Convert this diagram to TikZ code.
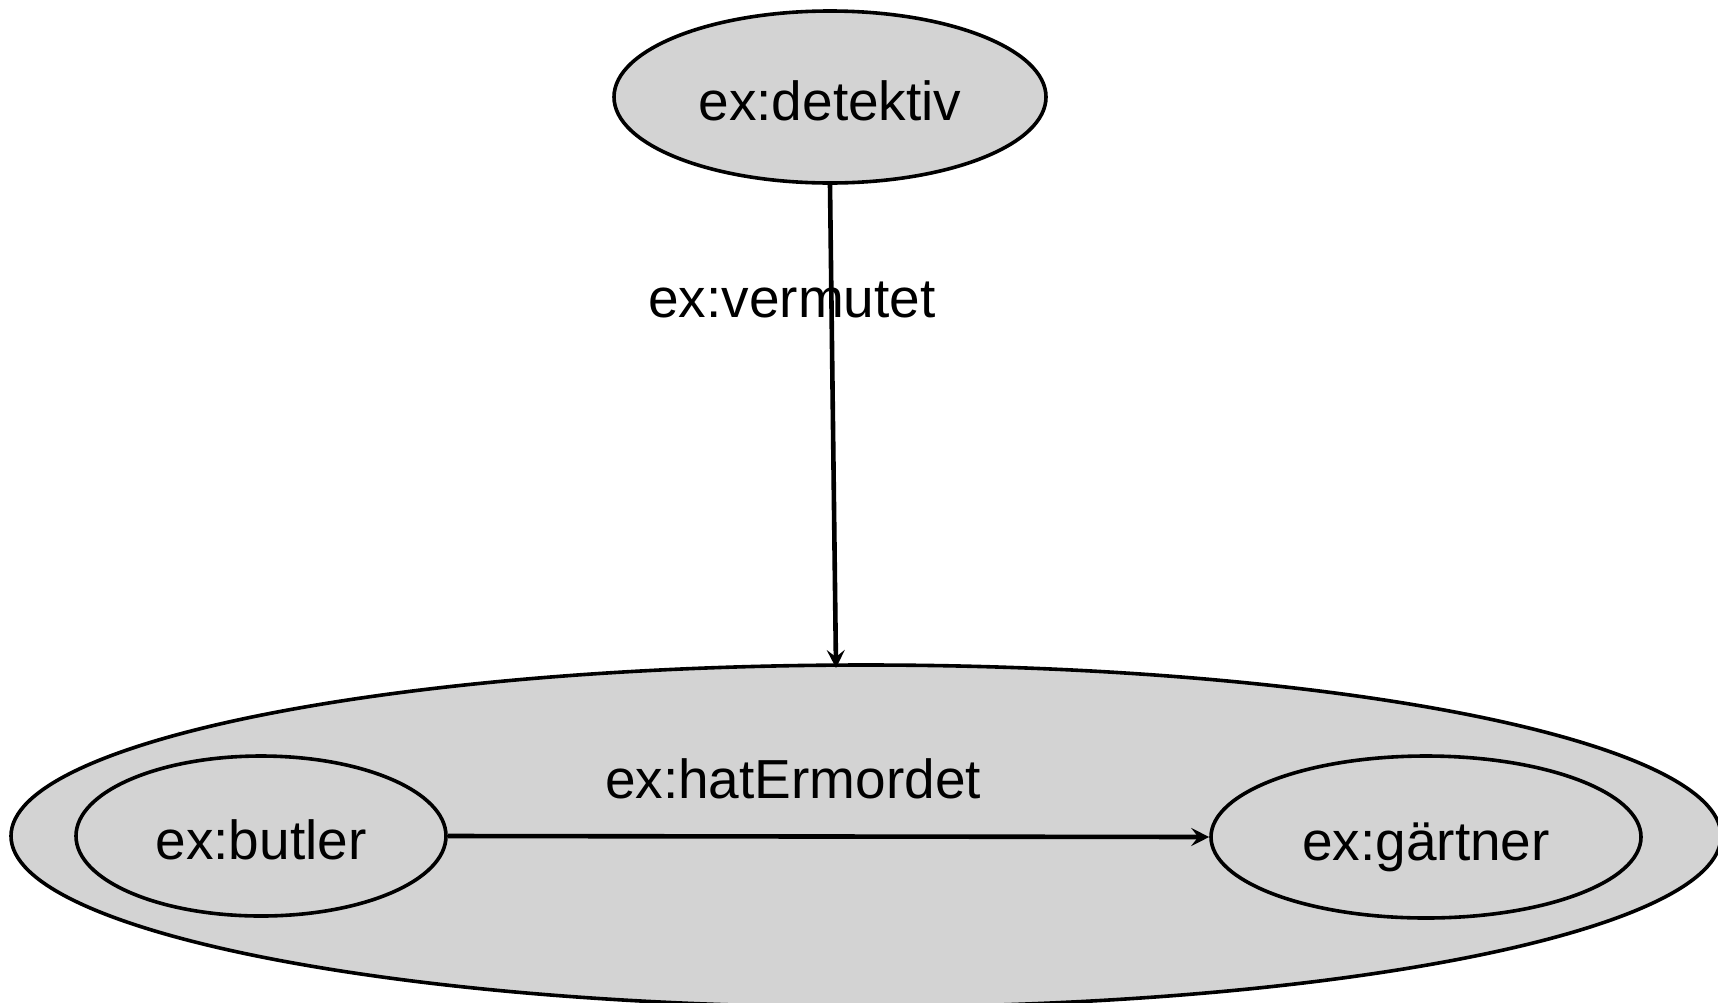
\documentclass[tikz,border=0pt]{standalone}
\usepackage{fontspec}
\setmainfont{Liberation Sans}
\usetikzlibrary{shapes.geometric,arrows.meta}
\definecolor{nodegray}{RGB}{211,211,211}
\begin{document}
\begin{tikzpicture}[x=0.5pt,y=-0.5pt,
  res/.style={ellipse,draw=black,line width=1.8pt,fill=nodegray,inner sep=0pt,
    font=\fontsize{27.5pt}{33pt}\selectfont,text height=23pt,text depth=0pt},
  lbl/.style={anchor=base,inner sep=0pt,font=\fontsize{27.5pt}{33pt}\selectfont},
  conn/.style={line width=2.3pt,-{Stealth[length=9pt,width=9pt,inset=3.5pt]}}]
\useasboundingbox (0,0) rectangle (1718,1002);
\node[res,minimum width=216pt,minimum height=86pt] (det) at (830,97) {ex:detektiv};
\node[res,minimum width=855pt,minimum height=171pt] (outer) at (866,836) {};
\node[res,minimum width=185pt,minimum height=80pt] (butler) at (261,836) {ex:butler};
\node[res,minimum width=215pt,minimum height=81pt] (gaertner) at (1426,837) {ex:gärtner};
\coordinate (tip) at (836,668);
\draw[conn] (det.south) -- (tip);
\draw[conn] (butler.east) -- (gaertner.west);
\node[lbl] (vermutet) at (792,317) {ex:vermutet};
\node[lbl] (hat) at (793,798) {ex:hatErmordet};
\end{tikzpicture}
\end{document}
